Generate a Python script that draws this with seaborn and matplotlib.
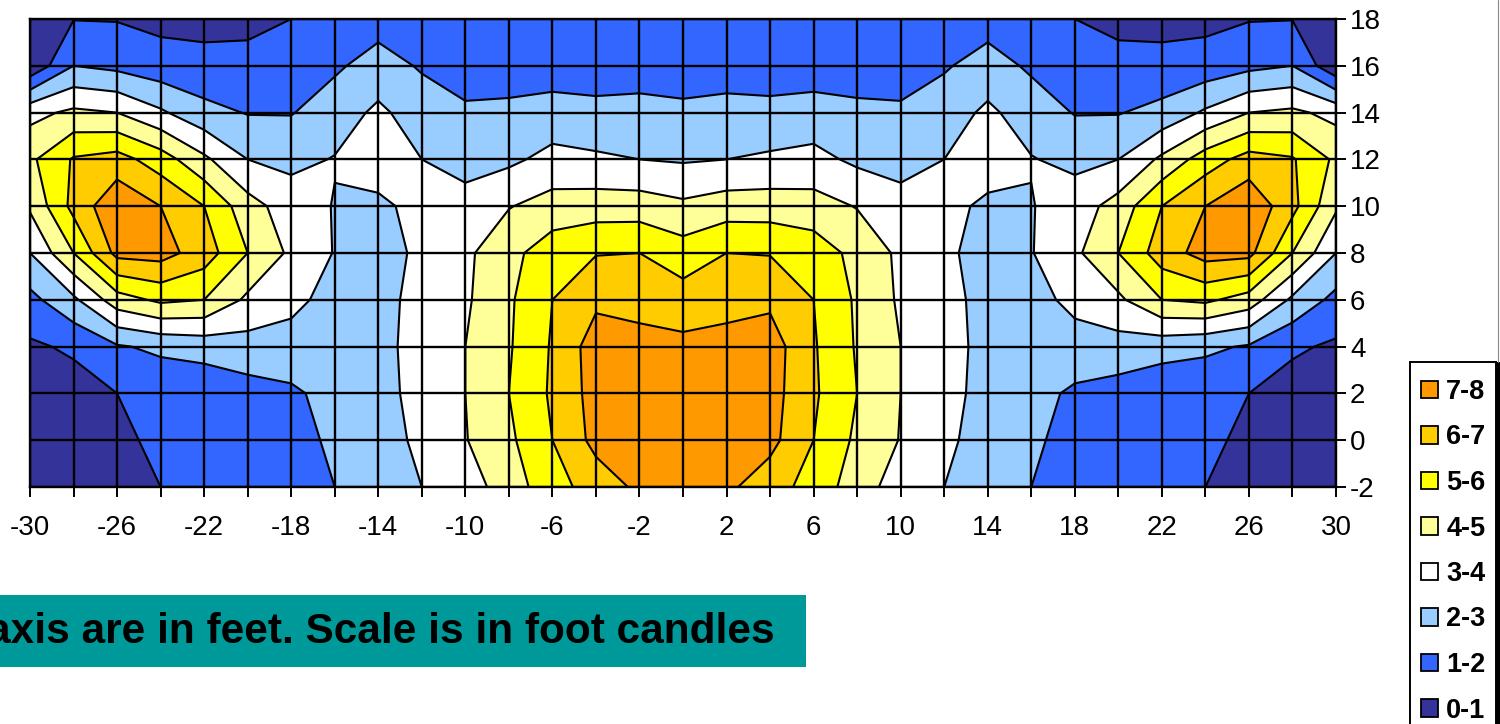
import numpy as np
import pandas as pd
import matplotlib
matplotlib.use("Agg")
import matplotlib.pyplot as plt
from matplotlib.lines import Line2D
from matplotlib.patches import Patch, Rectangle
import seaborn as sns

# DATA: illuminance (foot candles)
x_feet = list(range(-30, 31, 2))
y_feet = [18, 16, 14, 12, 10, 8, 6, 4, 2, 0, -2]

row_18 = [1.0, .97, .95, .75, .7, .75, 1.0, 1.3, 1.6, 1.3, 1.2, 1.2, 1.2, 1.2, 1.2, 1.2,
          1.2, 1.2, 1.2, 1.2, 1.2, 1.3, 1.6, 1.3, 1.0, .75, .7, .75, .95, .97, 1.0]
row_16 = [.2, 2.0, 1.75, 1.4, 1.3, 1.3, 1.3, 1.85, 2.4, 1.9, 1.4, 1.45, 1.5, 1.45, 1.5, 1.4,
          1.5, 1.45, 1.5, 1.45, 1.4, 1.9, 2.4, 1.85, 1.3, 1.3, 1.3, 1.4, 1.75, 2.0, .2]
row_14 = [3.7, 4.2, 4.0, 3.15, 2.3, 1.95, 1.95, 2.5, 3.2, 2.5, 2.2, 2.25, 2.4, 2.3, 2.35, 2.25,
          2.35, 2.3, 2.4, 2.25, 2.2, 2.5, 3.2, 2.5, 1.95, 1.95, 2.3, 3.15, 4.0, 4.2, 3.7]
row_12 = [4.8, 6.1, 6.4, 5.5, 4.2, 3.0, 2.75, 3.05, 3.5, 3.0, 2.6, 2.8, 3.3, 3.15, 3.0, 2.9,
          3.0, 3.15, 3.3, 2.8, 2.6, 3.0, 3.5, 3.05, 2.75, 3.0, 4.2, 5.5, 6.4, 6.1, 4.8]
row_10 = [4.15, 6.3, 7.8, 7.0, 6.0, 4.4, 3.5, 2.95, 2.8, 3.3, 3.4, 3.95, 4.4, 4.5, 4.5, 4.2,
          4.5, 4.5, 4.4, 3.95, 3.4, 3.3, 2.8, 2.95, 3.5, 4.4, 6.0, 7.0, 7.8, 6.3, 4.15]
row_8 = [3.0, 5.0, 7.3, 7.4, 6.5, 5.0, 3.8, 2.95, 2.6, 3.2, 3.8, 4.7, 5.55, 5.95, 6.0, 5.45,
         6.0, 5.95, 5.55, 4.7, 3.8, 3.2, 2.6, 2.95, 3.8, 5.0, 6.5, 7.4, 7.3, 5.0, 3.0]
row_6 = [1.7, 2.8, 4.55, 5.2, 5.0, 3.8, 3.3, 2.6, 2.6, 3.4, 3.85, 4.85, 6.0, 6.8, 6.65, 6.45,
         6.65, 6.8, 6.0, 4.85, 3.85, 3.4, 2.6, 2.6, 3.3, 3.8, 5.0, 5.2, 4.55, 2.8, 1.7]
row_4 = [.85, 1.15, 1.9, 2.2, 2.4, 2.6, 2.55, 2.5, 2.6, 3.5, 4.0, 4.9, 6.1, 7.5, 7.35, 7.25,
         7.35, 7.5, 6.1, 4.9, 4.0, 3.5, 2.6, 2.5, 2.55, 2.6, 2.4, 2.2, 1.9, 1.15, .85]
row_2 = [.3, .6, 1.0, 1.3, 1.3, 1.6, 1.85, 2.3, 2.5, 3.5, 4.0, 5.0, 6.15, 7.4, 7.9, 7.9,
         7.9, 7.4, 6.15, 5.0, 4.0, 3.5, 2.5, 2.3, 1.85, 1.6, 1.3, 1.3, 1.0, .6, .3]
row_0 = [.2, .4, .7, 1.3, 1.3, 1.5, 1.6, 2.2, 2.4, 3.3, 3.95, 4.8, 6.0, 7.3, 7.8, 7.9,
         7.8, 7.3, 6.0, 4.8, 3.95, 3.3, 2.4, 2.2, 1.6, 1.5, 1.3, 1.3, .7, .4, .2]
row_m2 = [.2, .3, .5, 1.0, 1.2, 1.3, 1.5, 2.0, 2.4, 3.0, 3.5, 4.5, 5.6, 6.45, 7.2, 7.6,
          7.2, 6.45, 5.6, 4.5, 3.5, 3.0, 2.4, 2.0, 1.5, 1.3, 1.2, 1.0, .5, .3, .2]

levels = [0, 1, 2, 3, 4, 5, 6, 7, 8]
band_labels = ["0-1", "1-2", "2-3", "3-4", "4-5", "5-6", "6-7", "7-8"]
band_colors = ["#333399", "#3366FF", "#99CCFF", "#FFFFFF",
               "#FFFF99", "#FFFF00", "#FFCC00", "#FF9900"]

grid = pd.DataFrame([row_18, row_16, row_14, row_12, row_10, row_8,
                     row_6, row_4, row_2, row_0, row_m2],
                    index=y_feet, columns=x_feet)

sns.set_theme(style="white")
plt.rcParams["font.family"] = ["Liberation Sans", "DejaVu Sans"]
plt.rcParams["axes.unicode_minus"] = False

W, H = 1500, 724
fig = plt.figure(figsize=(W / 100, H / 100), dpi=100)
ax = fig.add_axes([30 / W, 1 - 487 / H, 1306 / W, 468 / H])

palette = sns.color_palette(band_colors)
ax.contourf(grid.columns, grid.index, grid.values, levels=levels, colors=palette)
ax.contour(grid.columns, grid.index, grid.values, levels=levels[1:-1],
           colors="black", linewidths=1.5)

# axes and grid
ax.set_xlim(-30, 30)
ax.set_ylim(-2, 18)
ax.set_xticks(x_feet)
ax.set_xticklabels([str(v) if (v + 30) % 4 == 0 else "" for v in x_feet])
ax.set_yticks(y_feet)
ax.yaxis.tick_right()
ax.grid(True, color="black", linewidth=1.7)
ax.set_axisbelow(False)
ax.tick_params(axis="both", length=7, width=1.4, color="black", bottom=True, right=True,
               labelsize=20, labelcolor="black")
ax.tick_params(axis="x", pad=13)
ax.tick_params(axis="y", pad=3)
for spine in ax.spines.values():
    spine.set_color("black")
    spine.set_linewidth(1.7)

# note box
fig.add_artist(Rectangle((0, 1 - 667 / H), 806 / W, 72 / H, transform=fig.transFigure,
                         facecolor="#009999", edgecolor="none"))
fig.text(775 / W, 1 - 632 / H, "axis are in feet. Scale is in foot candles",
         ha="right", va="center", fontsize=30.5, fontweight="bold", color="black")

# legend, runs off the bottom like the original
fig.add_artist(Rectangle((1496 / W, 0), 4 / W, 362 / H, transform=fig.transFigure,
                         facecolor="black", edgecolor="none"))
fig.add_artist(Line2D([1497.5 / W, 1497.5 / W], [362 / H, 1], transform=fig.transFigure,
                      color="#888888", linewidth=0.8))
fig.add_artist(Rectangle((1410 / W, -10 / H), 86 / W, (372) / H, transform=fig.transFigure,
                         facecolor="white", edgecolor="black", linewidth=1.4))
handles = [Patch(facecolor=c, edgecolor="black", linewidth=1.3) for c in band_colors[::-1]]
leg = fig.legend(handles, band_labels[::-1], loc="upper left",
                 bbox_to_anchor=(1421 / W, 1 - 379 / H), bbox_transform=fig.transFigure,
                 borderaxespad=0, prop={"weight": "bold", "size": 19.5},
                 handlelength=0.63, handleheight=0.63, handletextpad=0.3,
                 labelspacing=0.72, borderpad=0, frameon=False, labelcolor="black")

fig.savefig("out.png", dpi=100)
